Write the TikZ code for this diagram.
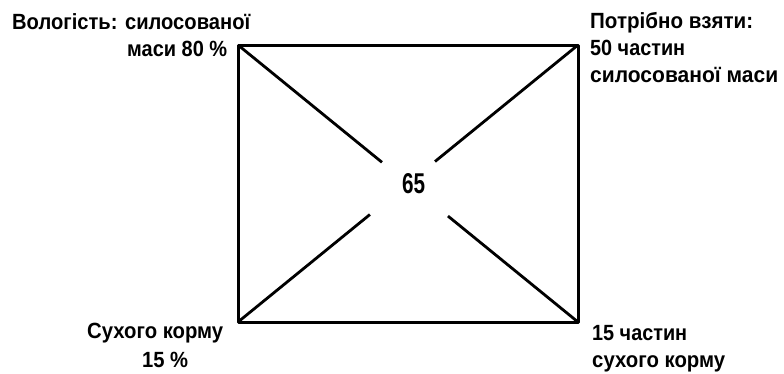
\documentclass[tikz,border=0pt]{standalone}
\usepackage{fontspec}
\setmainfont{Liberation Sans}
\usetikzlibrary{calc}
\newcommand{\fitw}[2]{\resizebox{#1pt}{\height}{#2}}
\begin{document}
\begin{tikzpicture}[x=1pt,y=-1pt,
  lbl/.style={inner sep=0pt,anchor=base west,font=\fontsize{22}{26}\selectfont\bfseries},
  frame/.style={line width=3pt,line join=round},
  diag/.style={line width=2.8pt,line cap=butt}]
\useasboundingbox (0,0) rectangle (784,373);
\coordinate (tl) at (238,45);
\coordinate (tr) at (578,45);
\coordinate (br) at (578,322);
\coordinate (bl) at (238,322);
\draw[frame] (tl) -- (tr) -- (br) -- (bl) -- cycle;
\coordinate (tlend) at ($(tl)!0.4235!(br)$);
\coordinate (brend) at ($(tl)!0.6176!(br)$);
\coordinate (trend) at ($(tr)!0.4206!(bl)$);
\coordinate (blend) at ($(bl)!0.388!(tr)$);
\draw[diag] (tl) -- (tlend);
\draw[diag] (br) -- (brend);
\draw[diag] (tr) -- (trend);
\draw[diag] (bl) -- (blend);
\node[lbl,anchor=base] (mid) at (413.5,193) {\resizebox{23pt}{20pt}{65}};
\node[lbl] (tla) at (12,29) {\fitw{238}{Вологість: силосованої}};
\node[lbl] (tlb) at (127,56) {\fitw{100}{маси 80 \%}};
\node[lbl] (tra) at (590,28) {\fitw{163}{Потрібно взяти:}};
\node[lbl] (trb) at (590,55) {\fitw{95}{50 частин}};
\node[lbl] (trc) at (590,82) {\fitw{188}{силосованої маси}};
\node[lbl] (bla) at (87,338) {\fitw{136}{Сухого корму}};
\node[lbl] (blb) at (142,367) {\fitw{46}{15 \%}};
\node[lbl] (bra) at (592,340) {\fitw{95}{15 частин}};
\node[lbl] (brb) at (592,367) {\fitw{133}{сухого корму}};
\end{tikzpicture}
\end{document}
